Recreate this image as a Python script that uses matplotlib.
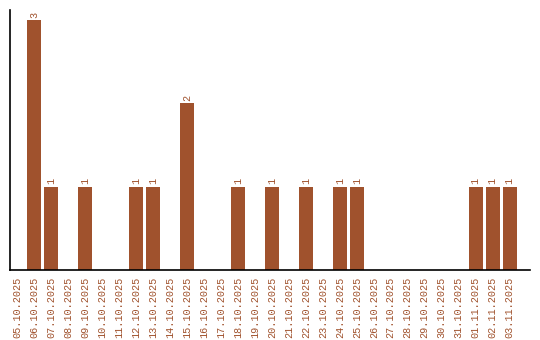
import matplotlib.pyplot as plt

dates = ["05.10.2025", "06.10.2025", "07.10.2025", "08.10.2025", "09.10.2025",
         "10.10.2025", "11.10.2025", "12.10.2025", "13.10.2025", "14.10.2025",
         "15.10.2025", "16.10.2025", "17.10.2025", "18.10.2025", "19.10.2025",
         "20.10.2025", "21.10.2025", "22.10.2025", "23.10.2025", "24.10.2025",
         "25.10.2025", "26.10.2025", "27.10.2025", "28.10.2025", "29.10.2025",
         "30.10.2025", "31.10.2025", "01.11.2025", "02.11.2025", "03.11.2025"]
counts = [0, 3, 1, 0, 1, 0, 0, 1, 1, 0, 2, 0, 0, 1, 0,
          1, 0, 1, 0, 1, 1, 0, 0, 0, 0, 0, 0, 1, 1, 1]

color = "#A0522D"
plt.rcParams['font.family'] = ['Liberation Mono', 'DejaVu Sans Mono']

fig = plt.figure(figsize=(5.4, 3.4), dpi=100)
ax = fig.add_axes([10 / 540, 70 / 340, 520 / 540, 260 / 340])

x = list(range(len(dates)))
bars = ax.bar(x, counts, width=0.82, color=color)
for xi, c in zip(x, counts):
    if c > 0:
        ax.text(xi, c + 0.03, str(c), rotation=90, ha='center', va='bottom',
                fontsize=7.3, color=color)

ax.set_xticks(x)
ax.set_xticklabels(dates, rotation=90, fontsize=7.3, color=color)
ax.tick_params(axis='x', length=0, pad=5)
ax.set_yticks([])
ax.set_xlim(-0.42, 30.2)
ax.set_ylim(0, 3.12)
for s in ['top', 'right']:
    ax.spines[s].set_visible(False)
ax.spines['left'].set_linewidth(1.2)
ax.spines['bottom'].set_linewidth(1.2)

fig.savefig("out.png", dpi=100)
